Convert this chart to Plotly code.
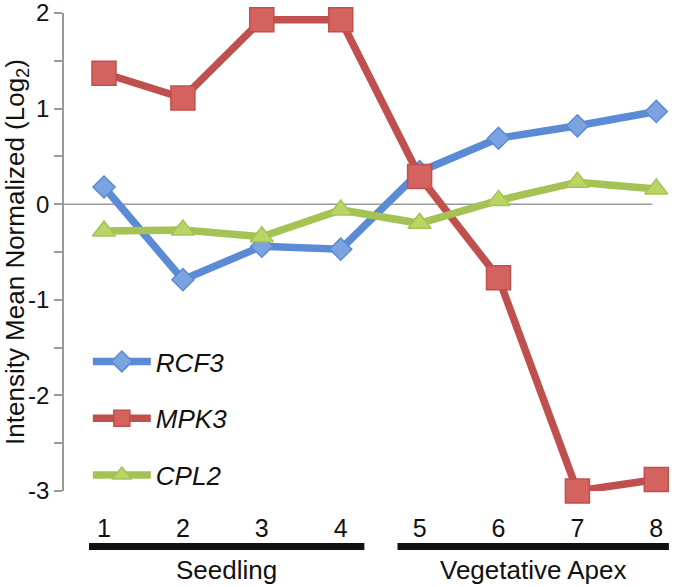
import plotly.graph_objects as go

# data
samples = [1, 2, 3, 4, 5, 6, 7, 8]
rcf3 = [0.18, -0.79, -0.44, -0.47, 0.34, 0.69, 0.82, 0.97]
mpk3 = [1.37, 1.11, 1.93, 1.93, 0.29, -0.77, -3.0, -2.88]
cpl2 = [-0.28, -0.27, -0.34, -0.06, -0.20, 0.04, 0.23, 0.16]

y_ticks = [-3, -2, -1, 0, 1, 2]
groups = ["Seedling", "Vegetative Apex"]
group_spans = [(0.81, 4.30), (4.72, 8.16)]

COLORS = {
    "blue": "#5B8BD4",
    "blue_fill": "#7BA3E0",
    "red": "#C0504D",
    "red_fill": "#D4625F",
    "green": "#A5C355",
    "green_fill": "#BBD466",
    "axis": "#9A9A9A",
    "text": "#111111",
}

FONT = "Liberation Sans, Arial, sans-serif"

series = [
    ("RCF3", rcf3, COLORS["blue"], COLORS["blue_fill"], "diamond", 17),
    ("MPK3", mpk3, COLORS["red"], COLORS["red_fill"], "square", 24),
    ("CPL2", cpl2, COLORS["green"], COLORS["green_fill"], "triangle-up", 20),
]

fig = go.Figure()

# zero line, stops at the last sample
fig.add_shape(type="line", xref="x", yref="y", x0=0.493, x1=7.95, y0=0, y1=0,
              line=dict(color=COLORS["axis"], width=1.5), layer="below")

for name, vals, col, fill, sym, size in series:
    fig.add_trace(go.Scatter(
        x=samples, y=vals, mode="lines+markers",
        name="<i>%s</i>" % name, legendgroup=name, cliponaxis=False,
        line=dict(color=col, width=7.5),
        marker=dict(symbol=sym, size=size, color=fill,
                    line=dict(color=col, width=1.5)),
    ))

# group bars and labels under the x ticks
for label, (a, b) in zip(groups, group_spans):
    fig.add_shape(type="rect", xref="x", yref="paper", x0=a, x1=b,
                  y0=-0.1234, y1=-0.1088, fillcolor="#111111", line=dict(width=0))
    fig.add_annotation(x=(a + b) / 2, y=-0.165, xref="x", yref="paper",
                       xanchor="center", yanchor="middle",
                       text=label, showarrow=False,
                       font=dict(size=26, color=COLORS["text"], family=FONT))

fig.update_layout(
    width=680, height=587,
    paper_bgcolor="white", plot_bgcolor="white",
    margin=dict(l=64, r=5, t=13, b=96),
    font=dict(family=FONT, color=COLORS["text"]),
    showlegend=True,
    legend=dict(x=0.039, y=0.32, xanchor="left", yanchor="top",
                bgcolor="rgba(0,0,0,0)", tracegroupgap=20, itemwidth=58,
                font=dict(size=26, color=COLORS["text"], family=FONT)),
    xaxis=dict(
        range=[0.493, 8.237], tickmode="array", tickvals=samples,
        ticktext=[str(s) for s in samples], automargin=False,
        showgrid=False, zeroline=False, showline=False,
        ticks="outside", ticklen=15, tickcolor="rgba(0,0,0,0)",
        tickfont=dict(size=25, color=COLORS["text"]),
    ),
    yaxis=dict(
        range=[-3, 2], tickmode="array", tickvals=y_ticks,
        ticktext=[str(v) for v in y_ticks], automargin=False,
        ticklabeloverflow="allow",
        showgrid=False, zeroline=False,
        showline=True, linecolor=COLORS["axis"], linewidth=1.5,
        ticks="outside", ticklen=8, tickcolor=COLORS["axis"], tickwidth=1.5,
        minor=dict(dtick=0.5, tick0=0, ticks="outside", ticklen=8,
                   tickcolor=COLORS["axis"], tickwidth=1.5),
        tickfont=dict(size=24, color=COLORS["text"]),
        title=dict(text="Intensity Mean Normalized (Log<sub>2</sub>)",
                   font=dict(size=26, color=COLORS["text"]), standoff=4),
    ),
)

# the page body has a default 8px margin; drop it so the figure sits at 0,0
fig.write_html("out.html", config={"displayModeBar": False},
               post_script="document.body.style.margin='0';")
